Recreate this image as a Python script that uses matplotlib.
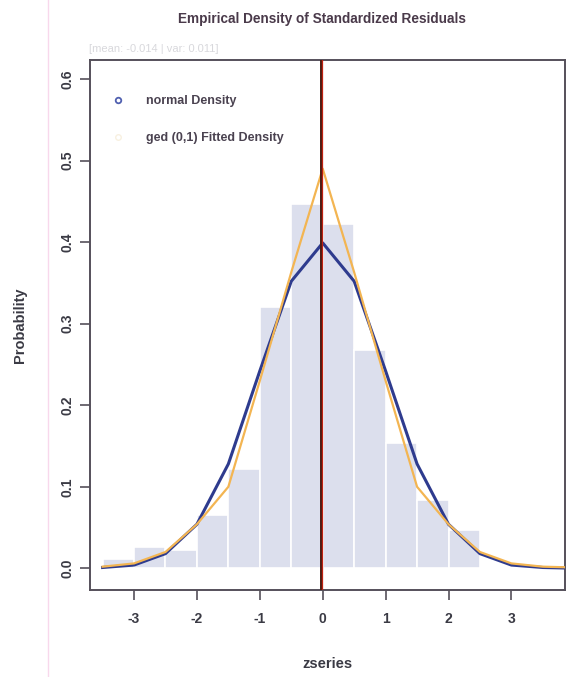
import matplotlib.pyplot as plt
from matplotlib.lines import Line2D

# histogram of standardized residuals (bin width 0.5)
bin_left = [-3.5, -3.0, -2.5, -2.0, -1.5, -1.0, -0.5, 0.0, 0.5, 1.0, 1.5, 2.0]
bin_height = [0.012, 0.026, 0.022, 0.065, 0.122, 0.320, 0.447, 0.422, 0.268, 0.154, 0.084, 0.047]

# density curves read at the bin breaks
grid = [-3.5, -3.0, -2.5, -2.0, -1.5, -1.0, -0.5, 0.0, 0.5, 1.0, 1.5, 2.0, 2.5, 3.0, 3.5, 4.0]
normal_dens = [0.001, 0.004, 0.018, 0.054, 0.128, 0.242, 0.352, 0.399,
               0.352, 0.242, 0.128, 0.054, 0.018, 0.004, 0.001, 0.0001]
ged_dens = [0.002, 0.006, 0.020, 0.054, 0.100, 0.230, 0.363, 0.490,
            0.363, 0.230, 0.100, 0.054, 0.020, 0.006, 0.002, 0.001]

resid_mean = -0.02
xticks = [-3, -2, -1, 0, 1, 2, 3]
yticks = [0.0, 0.1, 0.2, 0.3, 0.4, 0.5, 0.6]

plt.rcParams["font.family"] = ["Liberation Sans", "DejaVu Sans"]
text_col = "#3a3a44"
axis_col = "#55505a"

fig = plt.figure(figsize=(5.66, 6.77), dpi=100)
ax = fig.add_axes([0.159, 0.1285, 0.839, 0.7825])

ax.bar(bin_left, bin_height, width=0.5, align="edge", color="#dcdfed",
       edgecolor="white", linewidth=1.2, zorder=1)
ax.plot(grid, normal_dens, color="#2e3b8e", lw=2.2, zorder=3)
ax.plot(grid, ged_dens, color="#f3b552", lw=1.6, zorder=4)
ax.axvline(resid_mean - 0.015, color="#3d6b1e", lw=0.9, zorder=5)
ax.axvline(resid_mean, color="#4a1a12", lw=1.4, zorder=5)
ax.axvline(resid_mean + 0.012, color="#c02010", lw=0.9, zorder=6)

ax.set_xlim(-3.70, 3.85)
ax.set_ylim(-0.0266, 0.623)
ax.set_xticks(xticks)
ax.set_xticklabels([str(t) for t in xticks])
ax.set_yticks(yticks)
ax.set_yticklabels([f"{t:.1f}" for t in yticks], rotation=90, va="center")
ax.tick_params(colors=axis_col, labelcolor=text_col, length=7, width=1.2,
               labelsize=10)
ax.tick_params(axis="x", pad=9)
ax.tick_params(axis="y", pad=4)
for lab in ax.get_xticklabels() + ax.get_yticklabels():
    lab.set_fontweight("bold")
for sp in ax.spines.values():
    sp.set_color(axis_col)
    sp.set_linewidth(1.4)

ax.set_xlabel("zseries", fontsize=10.5, fontweight="bold", color=text_col, labelpad=22)
ax.set_ylabel("Probability", fontsize=10.5, fontweight="bold", color=text_col, labelpad=24)
fig.text(0.568, 0.972, "Empirical Density of Standardized Residuals", ha="center",
         va="center", fontsize=9.8, fontweight="bold", color="#4a3a4a")
fig.text(0.158, 0.928, "[mean: -0.014 | var: 0.011]", ha="left", va="center",
         fontsize=8, color="#d8d8dc")

handles = [
    Line2D([], [], color="#5060b0", marker="o", markersize=4, markerfacecolor="none",
           markeredgewidth=1.3, linestyle="none"),
    Line2D([], [], color="#f8f0e0", marker="o", markersize=4, markerfacecolor="none",
           markeredgewidth=1.0, linestyle="none"),
]
leg = ax.legend(handles, ["normal Density", "ged (0,1) Fitted Density"],
                loc="upper left", bbox_to_anchor=(0.01, 0.955), frameon=False,
                labelspacing=2.0, handletextpad=1.2, prop={"size": 9, "weight": "bold"})
for t in leg.get_texts():
    t.set_color("#4a4250")

fig.add_artist(Line2D([0.085, 0.085], [0, 1], color="#f8d8ec", lw=1.0))

fig.savefig("out.png", dpi=100, facecolor="white")
